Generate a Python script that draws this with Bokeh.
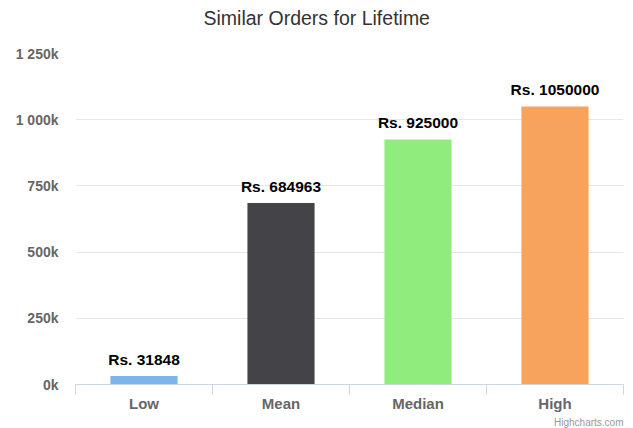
from bokeh.plotting import figure
from bokeh.models import FixedTicker, ColumnDataSource, Range1d, Title, LinearAxis
from bokeh.embed import file_html
from bokeh.resources import INLINE
from bokeh.core.properties import value

# ---- data ----
title_text = "Similar Orders for Lifetime"
categories = ["Low", "Mean", "Median", "High"]
values = [31848, 684963, 925000, 1050000]
colors = ["#7cb5ec", "#434348", "#90ed7d", "#f7a35c"]
y_ticks = [0, 250000, 500000, 750000, 1000000, 1250000]
y_tick_labels = ["0k", "250k", "500k", "750k", "1 000k", "1 250k"]
credit_text = "Highcharts.com"

FONT = "Liberation Sans"

x_pos = [i + 0.5 for i in range(len(categories))]
bar_labels = ["Rs. %d" % v for v in values]
src = ColumnDataSource(dict(x=x_pos, top=values, color=colors, label=bar_labels))

p = figure(width=633, height=428, output_backend="svg", toolbar_location=None,
           x_range=Range1d(0, len(categories)), y_range=Range1d(0, y_ticks[-1]),
           min_border_left=75, min_border_right=10, min_border_top=53, min_border_bottom=44)
p.outline_line_color = None
p.background_fill_color = "white"
p.border_fill_color = "white"

xa = p.xaxis[0]
ya = p.yaxis[0]

# invisible spacer between the title and the plot area
spacer = LinearAxis(ticker=FixedTicker(ticks=[0]), axis_line_color=None,
                    major_tick_line_color=None, minor_tick_line_color=None,
                    major_tick_out=23, major_tick_in=0, minor_tick_out=0, minor_tick_in=0,
                    major_label_standoff=0, major_label_overrides={0: ""},
                    major_label_text_font_size="1px")
p.add_layout(spacer, "above")

p.title.text = title_text
p.title.align = "left"
p.title.offset = 128
p.title.standoff = 0
p.title.vertical_align = "top"
p.title.text_font = FONT
p.title.text_font_size = "19.5px"
p.title.text_font_style = "normal"
p.title.text_color = "#333333"

p.vbar(x="x", top="top", bottom=0, width=0.49, color="color", line_color=None, source=src)
p.text(x="x", y="top", text="label", source=src, text_align="center",
       text_baseline="alphabetic", y_offset=-17, text_font=value(FONT),
       text_font_size="15.5px", text_font_style="bold", text_color="#000000")

# x axis
xa.ticker = FixedTicker(ticks=x_pos, minor_ticks=list(range(len(categories) + 1)))
xa.major_label_overrides = {x: c for x, c in zip(x_pos, categories)}
xa.axis_line_color = "#ccd6eb"
xa.major_tick_out = 0
xa.major_tick_in = 0
xa.minor_tick_out = 10
xa.minor_tick_in = 0
xa.minor_tick_line_color = "#ccd6eb"
xa.major_label_standoff = 0
xa.major_label_text_font = FONT
xa.major_label_text_font_size = "15px"
xa.major_label_text_font_style = "bold"
xa.major_label_text_color = "#666666"

# y axis
ya.ticker = FixedTicker(ticks=y_ticks)
ya.major_label_overrides = {t: l for t, l in zip(y_ticks, y_tick_labels)}
ya.axis_line_color = None
ya.major_tick_line_color = None
ya.minor_tick_line_color = None
ya.major_tick_out = 0
ya.major_label_standoff = 17
ya.major_label_text_font = FONT
ya.major_label_text_font_size = "14px"
ya.major_label_text_font_style = "bold"
ya.major_label_text_color = "#666666"

p.xgrid.grid_line_color = None
p.ygrid.grid_line_color = "#e6e6e6"
p.ygrid.ticker = FixedTicker(ticks=y_ticks)

p.add_layout(Title(text=credit_text, align="right", text_font=FONT, text_font_size="10px",
                   text_font_style="normal", text_color="#999999", standoff=0, offset=0), "below")

open("out.html", "w").write(file_html(p, INLINE))
